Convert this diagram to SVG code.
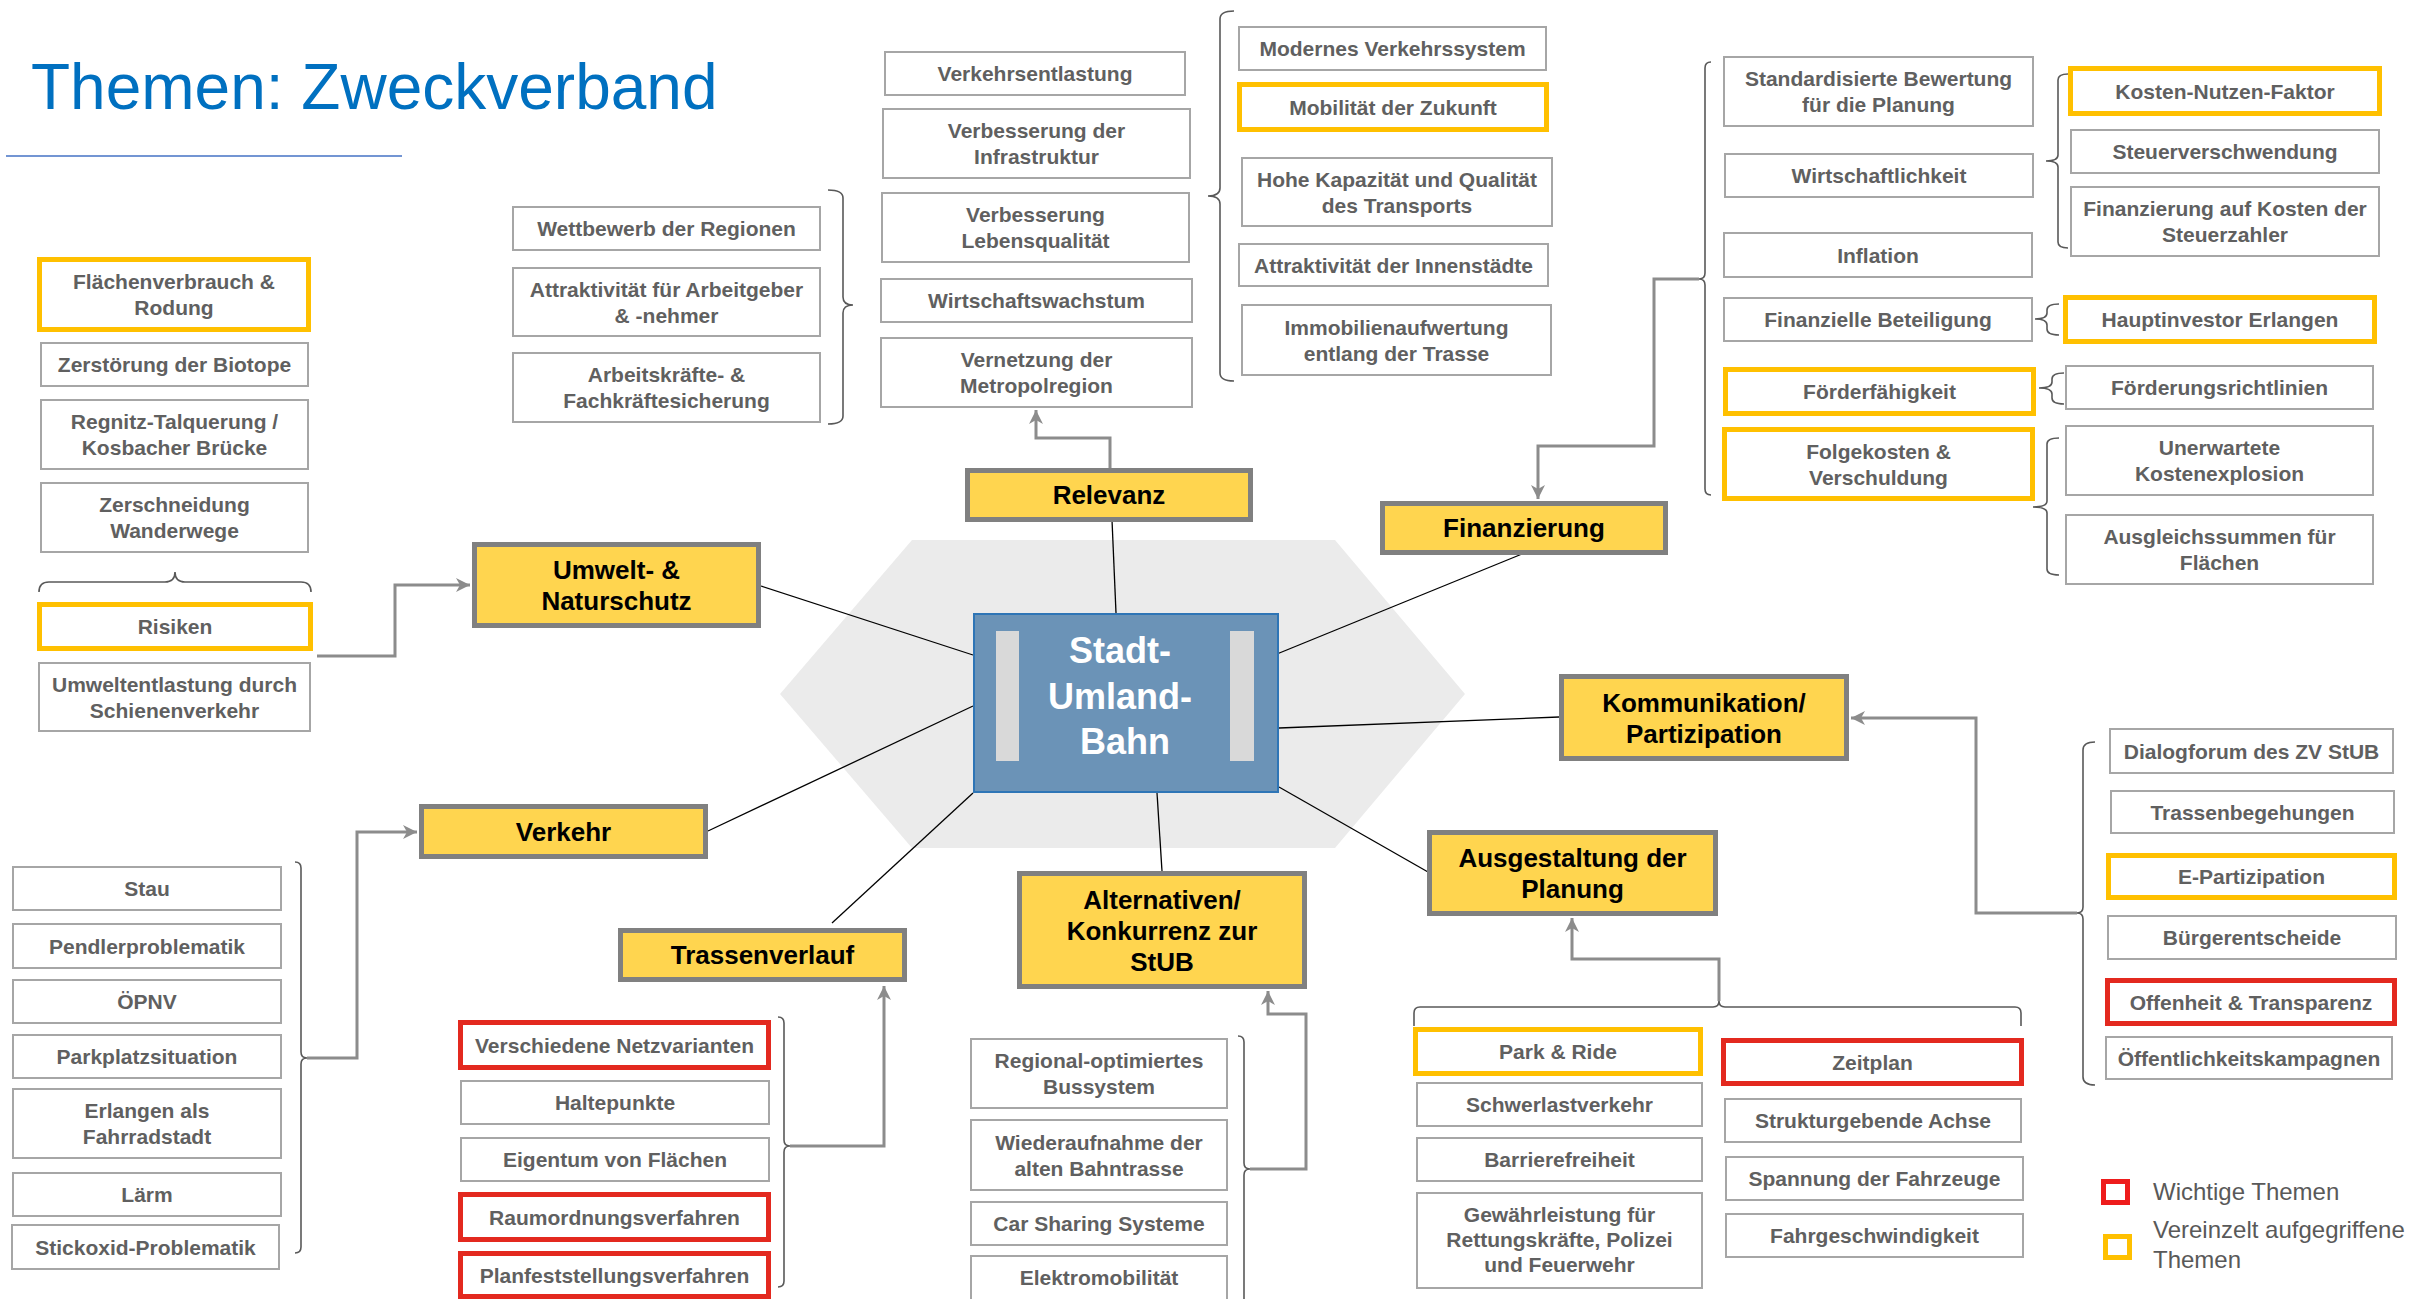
<svg xmlns="http://www.w3.org/2000/svg" width="2427" height="1299" viewBox="0 0 2427 1299">
  <style>
    .it rect { fill: #fff; stroke: #A6A6A6; stroke-width: 2; }
    .it.hy rect { stroke: #FFC000; stroke-width: 5; }
    .it.hr rect { stroke: #E3291F; stroke-width: 5; }
    .it text { font-family: "Liberation Sans", Arial, sans-serif; font-weight: bold; font-size: 21px; fill: #606060; text-anchor: middle; }
    .mn rect { fill: #FFD54F; stroke: #808080; stroke-width: 5; }
    .mn text { font-family: "Liberation Sans", Arial, sans-serif; font-weight: bold; font-size: 26px; fill: #000; text-anchor: middle; }
    .lnk { stroke: #000; stroke-width: 1.3; fill: none; }
    .arr { stroke: #8C8C8C; stroke-width: 3; fill: none; marker-end: url(#ah); }
    .br { stroke: #595959; stroke-width: 1.6; fill: none; }
    .lg { font-family: "Liberation Sans", Arial, sans-serif; font-size: 24px; fill: #595959; }
  </style>
  <defs>
    <marker id="ah" viewBox="0 0 16 16" refX="15" refY="8" markerWidth="16" markerHeight="16" orient="auto" markerUnits="userSpaceOnUse">
      <path d="M1,1 L15,8 L1,15 L5,8 Z" fill="#8C8C8C"/>
    </marker>
  </defs>
  <rect width="2427" height="1299" fill="#fff"/>

  <!-- title -->
  <g id="title">
    <text x="31" y="109" font-family="Liberation Sans, Arial, sans-serif" font-size="64" fill="#0070C0">Themen: Zweckverband</text>
    <line x1="6" y1="156" x2="402" y2="156" stroke="#4472C4" stroke-width="1.5"/>
  </g>

  <!-- hexagon backdrop -->
  <polygon id="hex" points="780,694 912,540 1335,540 1465,694 1335,848 912,848" fill="#EBEBEB"/>

  <!-- connectors -->
  <g id="connectors">
    <line class="lnk" x1="761" y1="586" x2="973" y2="655"/>
    <line class="lnk" x1="1112" y1="520" x2="1116" y2="613"/>
    <line class="lnk" x1="1522" y1="554" x2="1272" y2="656"/>
    <line class="lnk" x1="1559" y1="717" x2="1279" y2="728"/>
    <line class="lnk" x1="1428" y1="872" x2="1279" y2="787"/>
    <line class="lnk" x1="1162" y1="871" x2="1157" y2="793"/>
    <line class="lnk" x1="832" y1="923" x2="973" y2="793"/>
    <line class="lnk" x1="708" y1="831" x2="973" y2="706"/>

    <path class="arr" d="M317,656 H395 V585 H470"/>
    <path class="arr" d="M307,1058 H357 V832 H417"/>
    <path class="arr" d="M790,1146 H884 V986"/>
    <path class="arr" d="M1250,1169 H1306 V1014 H1268 V991"/>
    <path class="arr" d="M1719,1001 V959 H1572 V918"/>
    <path class="arr" d="M2077,913 H1976 V718 H1851"/>
    <path class="arr" d="M1699,279 H1654 V446 H1538 V499"/>
    <path class="arr" d="M1110,468 V438 H1036 V410"/>

    <!-- braces -->
    <path class="br" d="M39,592 Q39,582 49,582 H165 Q175,582 175,572 Q175,582 185,582 H301 Q311,582 311,592"/>
    <path class="br" d="M828,190 Q843,190 843,198 V297 Q843,305 853,305 Q843,305 843,313 V416 Q843,424 828,424"/>
    <path class="br" d="M1234,11 Q1220,11 1220,19 V188 Q1220,196 1208,196 Q1220,196 1220,204 V373 Q1220,381 1234,381"/>
    <path class="br" d="M1711,62 Q1705,62 1705,68 V273 Q1705,279 1699,279 Q1705,279 1705,285 V489 Q1705,495 1711,495"/>
    <path class="br" d="M2068,74 Q2058,74 2058,80 V155 Q2058,161 2046,161 Q2058,161 2058,167 V242 Q2058,248 2068,248"/>
    <path class="br" d="M2059,304 Q2047,304 2047,310 V313 Q2047,319 2035,319 Q2047,319 2047,325 V329 Q2047,335 2059,335"/>
    <path class="br" d="M2064,373 Q2052,373 2052,379 V382 Q2052,388 2039,388 Q2052,388 2052,394 V398 Q2052,404 2064,404"/>
    <path class="br" d="M2059,438 Q2047,438 2047,444 V501 Q2047,507 2033,507 Q2047,507 2047,513 V569 Q2047,575 2059,575"/>
    <path class="br" d="M2095,742 Q2083,742 2083,750 V907 Q2083,913 2077,913 Q2083,913 2083,919 V1077 Q2083,1085 2095,1085"/>
    <path class="br" d="M1414,1026 V1013 Q1414,1007 1420,1007 H1713 Q1719,1007 1719,1001 Q1719,1007 1725,1007 H2015 Q2021,1007 2021,1013 V1026"/>
    <path class="br" d="M1238,1036 Q1244,1036 1244,1042 V1163 Q1244,1169 1250,1169 Q1244,1169 1244,1175 V1310"/>
    <path class="br" d="M778,1017 Q784,1017 784,1023 V1140 Q784,1146 790,1146 Q784,1146 784,1152 V1281 Q784,1287 778,1287"/>
    <path class="br" d="M295,862 Q301,862 301,868 V1052 Q301,1058 307,1058 Q301,1058 301,1064 V1247 Q301,1253 295,1253"/>
  </g>

  <!-- central node -->
  <g id="center">
    <rect x="974" y="614" width="304" height="178" fill="#6B93B7" stroke="#2E75B6" stroke-width="2"/>
    <rect x="996" y="631" width="23" height="130" fill="#D9D9D9"/>
    <rect x="1230" y="631" width="24" height="130" fill="#D9D9D9"/>
    <text font-family="Liberation Sans, Arial, sans-serif" font-weight="bold" font-size="36" fill="#fff" text-anchor="middle">
      <tspan x="1125" y="663">Stadt-</tspan>
      <tspan x="1125" y="709">Umland-</tspan>
      <tspan x="1125" y="754">Bahn</tspan>
    </text>
  </g>

  <!-- main topics -->
  <g id="umwelt" class="mn"><rect x="474.5" y="544.5" width="284" height="81"/><text><tspan x="616.5" y="579">Umwelt- &amp;</tspan><tspan x="616.5" y="610">Naturschutz</tspan></text></g>
  <g id="relevanz" class="mn"><rect x="967.5" y="470.5" width="283" height="49"/><text x="1109" y="504">Relevanz</text></g>
  <g id="finanzierung" class="mn"><rect x="1382.5" y="503.5" width="283" height="49"/><text x="1524" y="537">Finanzierung</text></g>
  <g id="kommunikation" class="mn"><rect x="1561.5" y="676.5" width="285" height="82"/><text><tspan x="1704" y="711.5">Kommunikation/</tspan><tspan x="1704" y="742.5">Partizipation</tspan></text></g>
  <g id="ausgestaltung" class="mn"><rect x="1429.5" y="832.5" width="286" height="81"/><text><tspan x="1572.5" y="867">Ausgestaltung der</tspan><tspan x="1572.5" y="898">Planung</tspan></text></g>
  <g id="alternativen" class="mn"><rect x="1019.5" y="873.5" width="285" height="113"/><text><tspan x="1162" y="909">Alternativen/</tspan><tspan x="1162" y="940">Konkurrenz zur</tspan><tspan x="1162" y="971">StUB</tspan></text></g>
  <g id="trassenverlauf" class="mn"><rect x="620.5" y="930.5" width="284" height="49"/><text x="762.5" y="964">Trassenverlauf</text></g>
  <g id="verkehr" class="mn"><rect x="421.5" y="806.5" width="284" height="50"/><text x="563.5" y="840.5">Verkehr</text></g>

  <!-- Umwelt items -->
  <g id="u1" class="it hy"><rect x="39.5" y="259.5" width="269" height="70"/><text><tspan x="174" y="289">Flächenverbrauch &amp;</tspan><tspan x="174" y="315">Rodung</tspan></text></g>
  <g id="u2" class="it"><rect x="41" y="343" width="267" height="43"/><text x="174.5" y="372">Zerstörung der Biotope</text></g>
  <g id="u3" class="it"><rect x="41" y="400" width="267" height="69"/><text><tspan x="174.5" y="429">Regnitz-Talquerung /</tspan><tspan x="174.5" y="455">Kosbacher Brücke</tspan></text></g>
  <g id="u4" class="it"><rect x="41" y="483" width="267" height="69"/><text><tspan x="174.5" y="512">Zerschneidung</tspan><tspan x="174.5" y="538">Wanderwege</tspan></text></g>
  <g id="u5" class="it hy"><rect x="39.5" y="604.5" width="271" height="44"/><text x="175" y="634">Risiken</text></g>
  <g id="u6" class="it"><rect x="39" y="663" width="271" height="68"/><text><tspan x="174.5" y="691.5">Umweltentlastung durch</tspan><tspan x="174.5" y="717.5">Schienenverkehr</tspan></text></g>

  <!-- Relevanz items -->
  <g id="r1" class="it"><rect x="513" y="207" width="307" height="43"/><text x="666.5" y="236">Wettbewerb der Regionen</text></g>
  <g id="r2" class="it"><rect x="513" y="268" width="307" height="68"/><text><tspan x="666.5" y="296.5">Attraktivität für Arbeitgeber</tspan><tspan x="666.5" y="322.5">&amp; -nehmer</tspan></text></g>
  <g id="r3" class="it"><rect x="513" y="353" width="307" height="69"/><text><tspan x="666.5" y="382">Arbeitskräfte- &amp;</tspan><tspan x="666.5" y="408">Fachkräftesicherung</tspan></text></g>
  <g id="r4" class="it"><rect x="885" y="52" width="300" height="43"/><text x="1035" y="81">Verkehrsentlastung</text></g>
  <g id="r5" class="it"><rect x="883" y="109" width="307" height="69"/><text><tspan x="1036.5" y="138">Verbesserung der</tspan><tspan x="1036.5" y="164">Infrastruktur</tspan></text></g>
  <g id="r6" class="it"><rect x="882" y="193" width="307" height="69"/><text><tspan x="1035.5" y="222">Verbesserung</tspan><tspan x="1035.5" y="248">Lebensqualität</tspan></text></g>
  <g id="r7" class="it"><rect x="881" y="279" width="311" height="43"/><text x="1036.5" y="308">Wirtschaftswachstum</text></g>
  <g id="r8" class="it"><rect x="881" y="338" width="311" height="69"/><text><tspan x="1036.5" y="367">Vernetzung der</tspan><tspan x="1036.5" y="393">Metropolregion</tspan></text></g>
  <g id="r9" class="it"><rect x="1239" y="27" width="307" height="43"/><text x="1392.5" y="56">Modernes Verkehrssystem</text></g>
  <g id="r10" class="it hy"><rect x="1239.5" y="84.5" width="307" height="45"/><text x="1393" y="114.5">Mobilität der Zukunft</text></g>
  <g id="r11" class="it"><rect x="1242" y="158" width="310" height="68"/><text><tspan x="1397" y="186.5">Hohe Kapazität und Qualität</tspan><tspan x="1397" y="212.5">des Transports</tspan></text></g>
  <g id="r12" class="it"><rect x="1239" y="244" width="309" height="42"/><text x="1393.5" y="272.5">Attraktivität der Innenstädte</text></g>
  <g id="r13" class="it"><rect x="1242" y="305" width="309" height="70"/><text><tspan x="1396.5" y="334.5">Immobilienaufwertung</tspan><tspan x="1396.5" y="360.5">entlang der Trasse</tspan></text></g>

  <!-- Finanzierung items -->
  <g id="f1" class="it"><rect x="1724" y="57" width="309" height="69"/><text><tspan x="1878.5" y="86">Standardisierte Bewertung</tspan><tspan x="1878.5" y="112">für die Planung</tspan></text></g>
  <g id="f2" class="it"><rect x="1725" y="154" width="308" height="43"/><text x="1879" y="183">Wirtschaftlichkeit</text></g>
  <g id="f3" class="it"><rect x="1724" y="233" width="308" height="44"/><text x="1878" y="262.5">Inflation</text></g>
  <g id="f4" class="it"><rect x="1724" y="298" width="308" height="43"/><text x="1878" y="327">Finanzielle Beteiligung</text></g>
  <g id="f5" class="it hy"><rect x="1725.5" y="369.5" width="308" height="44"/><text x="1879.5" y="399">Förderfähigkeit</text></g>
  <g id="f6" class="it hy"><rect x="1724.5" y="429.5" width="308" height="69"/><text><tspan x="1878.5" y="458.5">Folgekosten &amp;</tspan><tspan x="1878.5" y="484.5">Verschuldung</tspan></text></g>
  <g id="f7" class="it hy"><rect x="2070.5" y="68.5" width="309" height="45"/><text x="2225" y="98.5">Kosten-Nutzen-Faktor</text></g>
  <g id="f8" class="it"><rect x="2071" y="130" width="308" height="43"/><text x="2225" y="159">Steuerverschwendung</text></g>
  <g id="f9" class="it"><rect x="2071" y="187" width="308" height="69"/><text><tspan x="2225" y="216">Finanzierung auf Kosten der</tspan><tspan x="2225" y="242">Steuerzahler</tspan></text></g>
  <g id="f10" class="it hy"><rect x="2065.5" y="297.5" width="309" height="44"/><text x="2220" y="327">Hauptinvestor Erlangen</text></g>
  <g id="f11" class="it"><rect x="2066" y="366" width="307" height="43"/><text x="2219.5" y="395">Förderungsrichtlinien</text></g>
  <g id="f12" class="it"><rect x="2066" y="426" width="307" height="69"/><text><tspan x="2219.5" y="455">Unerwartete</tspan><tspan x="2219.5" y="481">Kostenexplosion</tspan></text></g>
  <g id="f13" class="it"><rect x="2066" y="515" width="307" height="69"/><text><tspan x="2219.5" y="544">Ausgleichssummen für</tspan><tspan x="2219.5" y="570">Flächen</tspan></text></g>

  <!-- Kommunikation items -->
  <g id="k1" class="it"><rect x="2110" y="729" width="283" height="44"/><text x="2251.5" y="758.5">Dialogforum des ZV StUB</text></g>
  <g id="k2" class="it"><rect x="2111" y="791" width="283" height="42"/><text x="2252.5" y="819.5">Trassenbegehungen</text></g>
  <g id="k3" class="it hy"><rect x="2108.5" y="855.5" width="286" height="42"/><text x="2251.5" y="884">E-Partizipation</text></g>
  <g id="k4" class="it"><rect x="2108" y="916" width="288" height="43"/><text x="2252" y="945">Bürgerentscheide</text></g>
  <g id="k5" class="it hr"><rect x="2107.5" y="980.5" width="287" height="43"/><text x="2251" y="1009.5">Offenheit &amp; Transparenz</text></g>
  <g id="k6" class="it"><rect x="2106" y="1037" width="286" height="42"/><text x="2249" y="1065.5">Öffentlichkeitskampagnen</text></g>

  <!-- Ausgestaltung items -->
  <g id="a1" class="it hy"><rect x="1415.5" y="1029.5" width="285" height="44"/><text x="1558" y="1059">Park &amp; Ride</text></g>
  <g id="a2" class="it"><rect x="1417" y="1083" width="285" height="43"/><text x="1559.5" y="1112">Schwerlastverkehr</text></g>
  <g id="a3" class="it"><rect x="1417" y="1138" width="285" height="43"/><text x="1559.5" y="1167">Barrierefreiheit</text></g>
  <g id="a4" class="it"><rect x="1417" y="1193" width="285" height="95"/><text><tspan x="1559.5" y="1222">Gewährleistung für</tspan><tspan x="1559.5" y="1247">Rettungskräfte, Polizei</tspan><tspan x="1559.5" y="1272">und Feuerwehr</tspan></text></g>
  <g id="a5" class="it hr"><rect x="1723.5" y="1040.5" width="298" height="43"/><text x="1872.5" y="1069.5">Zeitplan</text></g>
  <g id="a6" class="it"><rect x="1725" y="1099" width="296" height="43"/><text x="1873" y="1128">Strukturgebende Achse</text></g>
  <g id="a7" class="it"><rect x="1726" y="1157" width="297" height="43"/><text x="1874.5" y="1186">Spannung der Fahrzeuge</text></g>
  <g id="a8" class="it"><rect x="1726" y="1214" width="297" height="43"/><text x="1874.5" y="1243">Fahrgeschwindigkeit</text></g>

  <!-- Alternativen items -->
  <g id="al1" class="it"><rect x="971" y="1039" width="256" height="69"/><text><tspan x="1099" y="1068">Regional-optimiertes</tspan><tspan x="1099" y="1094">Bussystem</tspan></text></g>
  <g id="al2" class="it"><rect x="971" y="1120" width="256" height="70"/><text><tspan x="1099" y="1149.5">Wiederaufnahme der</tspan><tspan x="1099" y="1175.5">alten Bahntrasse</tspan></text></g>
  <g id="al3" class="it"><rect x="971" y="1202" width="256" height="43"/><text x="1099" y="1231">Car Sharing Systeme</text></g>
  <g id="al4" class="it"><rect x="971" y="1256" width="256" height="60"/><text x="1099" y="1285">Elektromobilität</text></g>

  <!-- Trassenverlauf items -->
  <g id="t1" class="it hr"><rect x="460.5" y="1022.5" width="308" height="45"/><text x="614.5" y="1052.5">Verschiedene Netzvarianten</text></g>
  <g id="t2" class="it"><rect x="461" y="1081" width="308" height="43"/><text x="615" y="1110">Haltepunkte</text></g>
  <g id="t3" class="it"><rect x="461" y="1138" width="308" height="43"/><text x="615" y="1167">Eigentum von Flächen</text></g>
  <g id="t4" class="it hr"><rect x="460.5" y="1194.5" width="308" height="45"/><text x="614.5" y="1224.5">Raumordnungsverfahren</text></g>
  <g id="t5" class="it hr"><rect x="460.5" y="1253.5" width="308" height="43"/><text x="614.5" y="1282.5">Planfeststellungsverfahren</text></g>

  <!-- Verkehr items -->
  <g id="v1" class="it"><rect x="13" y="867" width="268" height="43"/><text x="147" y="896">Stau</text></g>
  <g id="v2" class="it"><rect x="13" y="924" width="268" height="44"/><text x="147" y="953.5">Pendlerproblematik</text></g>
  <g id="v3" class="it"><rect x="13" y="980" width="268" height="43"/><text x="147" y="1009">ÖPNV</text></g>
  <g id="v4" class="it"><rect x="13" y="1035" width="268" height="43"/><text x="147" y="1064">Parkplatzsituation</text></g>
  <g id="v5" class="it"><rect x="13" y="1089" width="268" height="69"/><text><tspan x="147" y="1118">Erlangen als</tspan><tspan x="147" y="1144">Fahrradstadt</tspan></text></g>
  <g id="v6" class="it"><rect x="13" y="1173" width="268" height="43"/><text x="147" y="1202">Lärm</text></g>
  <g id="v7" class="it"><rect x="12" y="1225" width="267" height="44"/><text x="145.5" y="1254.5">Stickoxid-Problematik</text></g>

  <!-- legend -->
  <g id="legend">
    <rect x="2103.5" y="1181.5" width="24" height="21" fill="none" stroke="#EE1C1C" stroke-width="5"/>
    <text class="lg" x="2153" y="1200">Wichtige Themen</text>
    <rect x="2105.5" y="1236.5" width="24" height="21" fill="none" stroke="#FFC000" stroke-width="5"/>
    <text class="lg"><tspan x="2153" y="1238">Vereinzelt aufgegriffene</tspan><tspan x="2153" y="1268">Themen</tspan></text>
  </g>
</svg>
